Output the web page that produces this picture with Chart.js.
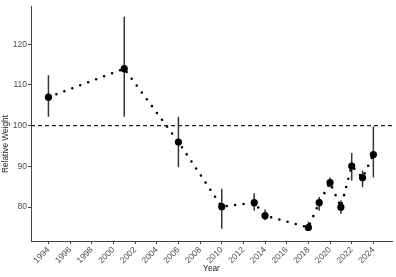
<!DOCTYPE html>
<html>
<head>
<meta charset="utf-8">
<script src="https://cdn.jsdelivr.net/npm/chart.js@4"></script>
<style>
  html, body { margin: 0; padding: 0; background: #fff; }
  #wrap { width: 396px; height: 277px; }
</style>
</head>
<body>
<div id="wrap"><canvas id="chart-weight"></canvas></div>
<script>
// Relative weight by year, mean with error bars
const years = [1994, 2001, 2006, 2010, 2013, 2014, 2018, 2019, 2020, 2021, 2022, 2023, 2024];
const means = [107, 114, 96, 80.1, 81.1, 77.9, 75, 81.1, 86, 80, 90.1, 87.2, 92.9];
const lower = [102.2, 102.2, 89.8, 74.7, 79.1, 76.8, 74.4, 79.1, 84.9, 78.4, 86.5, 84.9, 87.3];
const upper = [112.4, 126.8, 102.2, 84.5, 83.4, 79.4, 76.4, 82.5, 87.3, 81.6, 93.3, 89.0, 99.8];
const xTicks = [1994, 1996, 1998, 2000, 2002, 2004, 2006, 2008, 2010, 2012, 2014, 2016, 2018, 2020, 2022, 2024];
const yTicks = [80, 90, 100, 110, 120];
const refLine = 100;

const xMin = 1992.39, xMax = 2025.72;
const yMin = 71.68, yMax = 129.38;

const points = years.map((y, i) => ({ x: y, y: means[i] }));

// error bars drawn under the points
const errorBars = {
  id: 'errorBars',
  beforeDatasetsDraw(chart) {
    const c = chart.ctx;
    const xs = chart.scales.x, ys = chart.scales.y;
    c.save();
    c.strokeStyle = '#333';
    c.lineWidth = 1.5;
    years.forEach((yr, i) => {
      const px = xs.getPixelForValue(yr);
      c.beginPath();
      c.moveTo(px, ys.getPixelForValue(lower[i]));
      c.lineTo(px, ys.getPixelForValue(upper[i]));
      c.stroke();
    });
    c.restore();
  }
};

// y axis title, sits a bit below the middle like the original
const yTitle = {
  id: 'yTitle',
  afterDraw(chart) {
    const c = chart.ctx;
    c.save();
    c.translate(5.5, 144);
    c.rotate(-Math.PI / 2);
    c.fillStyle = '#222';
    c.font = '8.3px "Liberation Sans"';
    c.textAlign = 'center';
    c.textBaseline = 'middle';
    c.fillText('Relative Weight', 0, 0);
    c.restore();
  }
};

const ctx = document.getElementById('chart-weight');
const myChart = new Chart(ctx, {
  type: 'scatter',
  data: {
    datasets: [{
      data: [{ x: xMin, y: refLine }, { x: xMax, y: refLine }],
      showLine: true,
      borderColor: '#222',
      borderWidth: 1.2,
      borderDash: [4, 3],
      pointRadius: 0
    }, {
      data: points,
      showLine: true,
      borderColor: '#000',
      borderWidth: 2.6,
      borderDash: [0, 8.5],
      borderCapStyle: 'round',
      pointRadius: 3.6,
      pointBackgroundColor: '#000',
      pointBorderWidth: 0
    }]
  },
  options: {
    responsive: true,
    maintainAspectRatio: false,
    animation: false,
    layout: { padding: { top: 3, right: 3, left: 0, bottom: 0 } },
    plugins: { legend: { display: false }, tooltip: { enabled: false } },
    scales: {
      x: {
        type: 'linear',
        min: xMin,
        max: xMax,
        afterBuildTicks: (s) => { s.ticks = xTicks.map(v => ({ value: v })); },
        afterFit: (s) => { s.height = 36; },
        grid: { drawOnChartArea: false, drawTicks: true, tickLength: 3, tickColor: '#444' },
        border: { display: true, color: '#444', width: 1 },
        ticks: {
          maxRotation: 45, minRotation: 45, autoSkip: false, padding: 1,
          color: '#4d4d4d', font: { family: 'Liberation Sans', size: 8.5 },
          callback: (v) => String(v)
        },
        title: { display: true, text: 'Year', color: '#222', padding: { top: 0, bottom: 3 }, font: { family: 'Liberation Sans', size: 8.3 } }
      },
      y: {
        min: yMin,
        max: yMax,
        afterBuildTicks: (s) => { s.ticks = yTicks.map(v => ({ value: v })); },
        afterFit: (s) => { s.width = 31; },
        grid: { drawOnChartArea: false, drawTicks: true, tickLength: 3, tickColor: '#444' },
        border: { display: true, color: '#444', width: 1 },
        ticks: {
          padding: 1,
          color: '#4d4d4d', font: { family: 'Liberation Sans', size: 8.5 },
          callback: (v) => String(v)
        },
        title: { display: false }
      }
    }
  },
  plugins: [errorBars, yTitle]
});
</script>
</body>
</html>
